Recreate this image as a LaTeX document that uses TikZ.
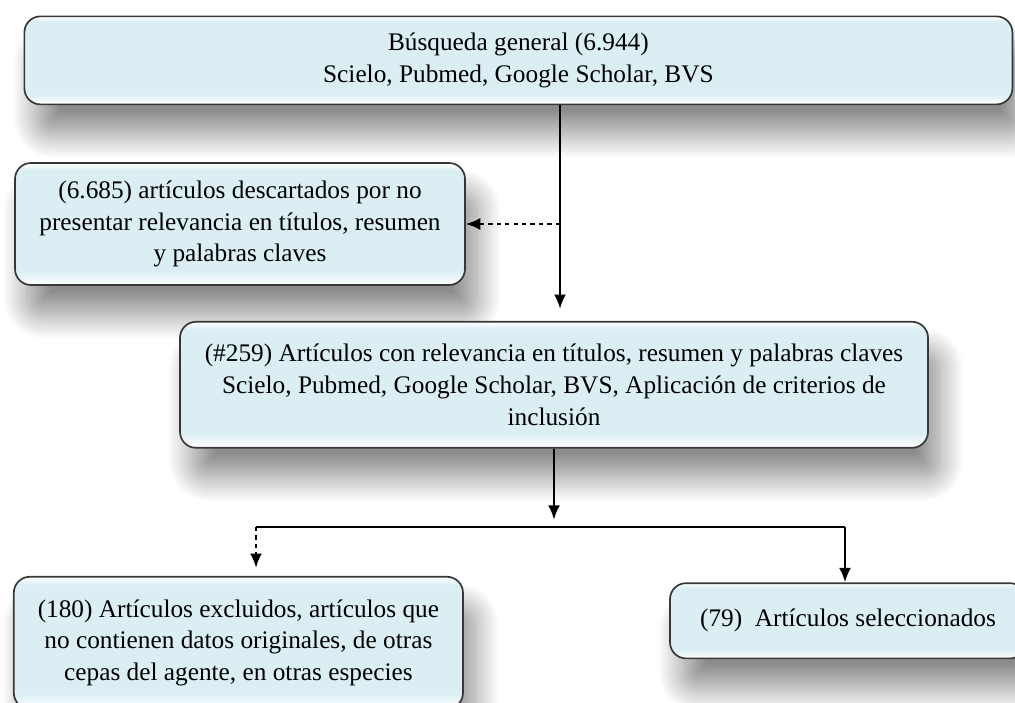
\documentclass[tikz,border=0pt]{standalone}
\usepackage{fontspec}
\setmainfont{Liberation Serif}
\usepackage{tikz}
\usetikzlibrary{arrows.meta,shadows.blur}

\definecolor{azulcaja}{RGB}{218,238,243}
\definecolor{bordecaja}{RGB}{55,55,55}
\pgfdeclareverticalshading{cajafondo}{100bp}{color(0bp)=(white); color(25bp)=(white); color(31bp)=(azulcaja); color(72bp)=(azulcaja); color(75bp)=(white); color(100bp)=(white)}

\begin{document}
\begin{tikzpicture}[->,>={Latex[length=3.6mm,width=3mm]},line width=1.8pt,node distance=4cm]
  \tikzstyle{caja}=[rectangle,rounded corners=0.4cm,draw=bordecaja,line width=1.2pt,shading=cajafondo,
                    text=black,align=center,font=\fontsize{18}{22.5}\selectfont,
                    blur shadow={shadow xshift=0.3cm,shadow yshift=-0.75cm,shadow blur radius=0.6cm,
                                 shadow blur steps=25,shadow opacity=45}]
  \clip (0,0) rectangle (25.375,17.55);

  \node[caja] (busqueda) at (12.96,16.04) [minimum width=24.7cm,minimum height=2.2cm]
        {Búsqueda general (6.944)\\Scielo, Pubmed, Google Scholar, BVS};
  \node[caja] (descartados) [below of=busqueda,node distance=4.09cm,xshift=-6.96cm,minimum width=11.25cm,minimum height=3.05cm]
        {(6.685) artículos descartados por no\\presentar relevancia en títulos, resumen\\y palabras claves};
  \node[caja] (relevantes) [below of=busqueda,node distance=8.11cm,xshift=0.89cm,minimum width=18.7cm,minimum height=3.15cm]
        {(\#259) Artículos con relevancia en títulos, resumen y palabras claves\\Scielo, Pubmed, Google Scholar, BVS, Aplicación de criterios de\\inclusión};
  \node[caja] (excluidos) [below of=descartados,node distance=10.47cm,xshift=-0.04cm,minimum width=11.23cm,minimum height=3.3cm]
        {(180) Artículos excluidos, artículos que\\no contienen datos originales, de otras\\cepas del agente, en otras especies};
  \node[caja] (seleccionados) [below of=relevantes,node distance=5.9cm,xshift=7.35cm,minimum width=8.9cm,minimum height=1.88cm]
        {(79)\ \ Artículos seleccionados};

  \coordinate (bajada) at (14,0 |- busqueda.south);
  \coordinate (llegada) at (14,0 |- relevantes.north);
  \coordinate (desvio) at (14,0 |- descartados.east);
  \coordinate (reparto) at (13.85,4.375);
  \coordinate (izq) at (6.4,4.375);
  \coordinate (der) at (21.125,4.375);

  \path (bajada) edge [shorten >=0.3cm]  (llegada)
        (desvio) edge [dashed,line width=1.4pt]  (descartados.east)
        (relevantes.south) edge [shorten >=0.18cm]  (reparto)
        (izq) edge [dashed,shorten >=0.2cm]  (izq |- excluidos.north)
        (der) edge  (der |- seleccionados.north);
  \draw[-] (izq) -- (der);
\end{tikzpicture}
\end{document}
